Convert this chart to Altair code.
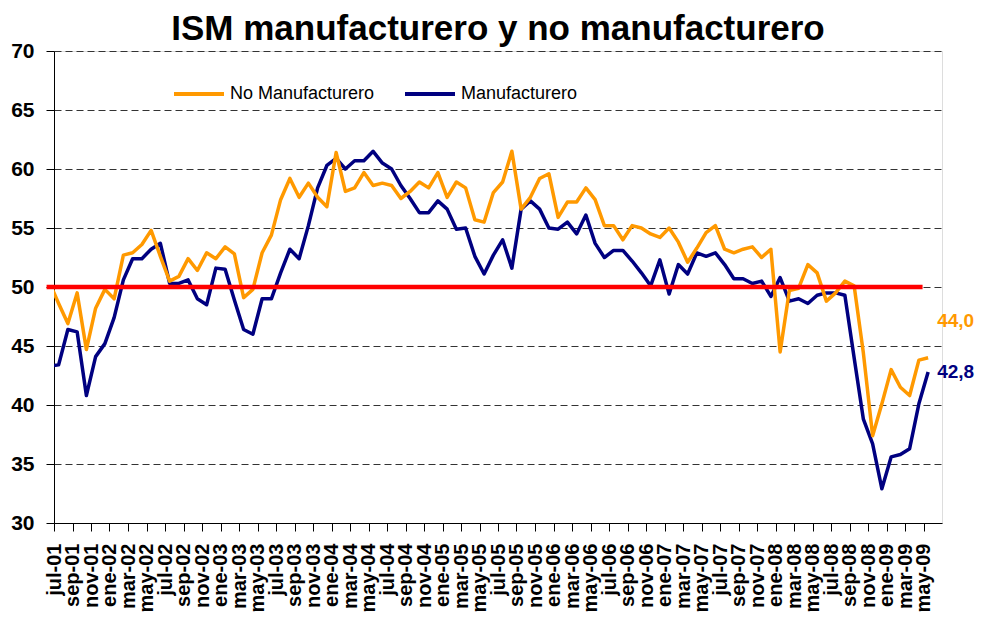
import altair as alt
import pandas as pd

MESES = ["ene", "feb", "mar", "abr", "may", "jun", "jul", "ago", "sep", "oct", "nov", "dic"]
# jun-01 (only its stub at the left edge is visible) .. may-09
FECHAS = []
for yy in range(1, 10):
    for m in range(12):
        if (yy == 1 and m < 5) or (yy == 9 and m > 4):
            continue
        FECHAS.append(f"{MESES[m]}-{yy:02d}")

MANUF = [
    43.3,
    43.4, 46.4, 46.2, 40.8, 44.1, 45.2, 47.4, 50.6, 52.4, 52.4,
    53.2, 53.7, 50.3, 50.3, 50.6, 49.0, 48.5, 51.6, 51.5, 48.9,
    46.4, 46.0, 49.0, 49.0, 51.2, 53.2, 52.4, 55.2, 58.4, 60.3,
    60.9, 60.0, 60.7, 60.7, 61.5, 60.5, 60.0, 58.6, 57.5, 56.3,
    56.3, 57.3, 56.6, 54.9, 55.0, 52.6, 51.1, 52.7, 54.0, 51.6,
    56.6, 57.3, 56.6, 55.0, 54.9, 55.5, 54.5, 56.1, 53.7, 52.5,
    53.1, 53.1, 52.2, 51.2, 50.1, 52.3, 49.4, 51.9, 51.1, 52.9,
    52.6, 52.9, 51.9, 50.7, 50.7, 50.3, 50.5, 49.2, 50.8, 48.8,
    49.0, 48.6, 49.3, 49.5, 49.5, 49.3, 44.0, 38.8, 36.7, 32.9,
    35.6, 35.8, 36.3, 40.1, 42.8,
]
NO_MANUF = [
    50.4,
    48.6, 46.9, 49.5, 44.7, 48.2, 49.8, 49.0, 52.7, 52.9, 53.6,
    54.8, 52.6, 50.5, 50.9, 52.4, 51.4, 52.9, 52.4, 53.4, 52.8,
    49.1, 49.8, 52.9, 54.4, 57.4, 59.2, 57.6, 58.8, 57.6, 56.8,
    61.4, 58.1, 58.4, 59.7, 58.6, 58.8, 58.6, 57.5, 58.1, 58.9,
    58.4, 59.7, 57.6, 58.9, 58.4, 55.7, 55.5, 58.0, 58.9, 61.5,
    56.6, 57.6, 59.2, 59.6, 55.9, 57.2, 57.2, 58.4, 57.4, 55.2,
    55.2, 54.0, 55.2, 55.0, 54.5, 54.2, 55.0, 53.8, 52.1, 53.3,
    54.6, 55.2, 53.2, 52.9, 53.2, 53.4, 52.5, 53.2, 44.5, 49.7,
    49.9, 51.9, 51.2, 48.8, 49.5, 50.5, 50.1, 44.4, 37.4, 40.1,
    43.0, 41.5, 40.8, 43.8, 44.0,
]
SERIES = ["No Manufacturero", "Manufacturero"]
COLORES = ["#FF9900", "#000080"]
Y_TICKS = [30, 35, 40, 45, 50, 55, 60, 65, 70]
NIVEL = 50
ROJO_DESDE, ROJO_HASTA = -1.3, 93.4
TITULO = "ISM manufacturero y no manufacturero"

n = len(FECHAS)          # 96, index -1 .. 94
rows = []
for k in range(n):
    rows.append({"idx": k - 1, "fecha": FECHAS[k], "serie": "Manufacturero", "valor": MANUF[k], "orden": 0})
for k in range(n):
    rows.append({"idx": k - 1, "fecha": FECHAS[k], "serie": "No Manufacturero", "valor": NO_MANUF[k], "orden": 1})
df = pd.DataFrame(rows)

last_o = pd.DataFrame([{"idx": n - 2, "valor": NO_MANUF[-1],
                        "txt": f"{NO_MANUF[-1]:.1f}".replace(".", ",")}])
last_m = pd.DataFrame([{"idx": n - 2, "valor": MANUF[-1],
                        "txt": f"{MANUF[-1]:.1f}".replace(".", ",")}])

W, H = 888, 472
step = W / 96.0

label_js = "[" + ",".join(f"'{f}'" for f in FECHAS) + "]"
xvals = list(range(0, n - 1, 2))

x_scale = alt.Scale(domain=[-0.5, 95.5], nice=False, zero=False)
y_scale = alt.Scale(domain=[30, 70], nice=False, zero=False)
color_scale = alt.Scale(domain=SERIES, range=COLORES)

x_axis = alt.Axis(
    values=xvals, tickCount=200,
    labelExpr=f"{label_js}[datum.value + 1]",
    title=None, grid=False, labelOverlap=False, labelAngle=270,
    labelAlign="right", labelBaseline="middle", labelFont="Liberation Sans",
    labelFontSize=20, labelFontWeight="bold", labelColor="black",
    labelPadding=12, tickSize=8, tickColor="black", tickOffset=-step / 2,
    domainColor="black", labelFlush=False,
)
y_axis = alt.Axis(
    values=Y_TICKS, title=None, grid=True, gridDash=[7, 4], gridColor="#333333",
    labelFont="Liberation Sans", labelFontSize=21, labelFontWeight="bold",
    labelColor="black", labelPadding=12, tickSize=8, tickColor="black",
    domainColor="black",
)

lines = alt.Chart(df).mark_line(strokeWidth=3.5, strokeJoin="round", clip=True).encode(
    x=alt.X("idx:Q", scale=x_scale, axis=x_axis),
    y=alt.Y("valor:Q", scale=y_scale, axis=y_axis),
    color=alt.Color(
        "serie:N", scale=color_scale,
        legend=alt.Legend(
            orient="none", legendX=118, legendY=16, direction="horizontal",
            title=None, symbolType="stroke", symbolSize=2500, symbolStrokeWidth=4,
            labelFont="Liberation Sans", labelFontSize=18, labelColor="black",
            labelOffset=4, columnPadding=22, labelLimit=300, fillColor="white",
            padding=0,
        ),
    ),
    order=alt.Order("orden:Q"),
)

red = alt.Chart(pd.DataFrame({"v": [NIVEL]})).mark_rule(color="#FF0000", strokeWidth=4.5).encode(
    x=alt.datum(ROJO_DESDE), x2=alt.datum(ROJO_HASTA), y="v:Q"
)

lab_o = alt.Chart(last_o).mark_text(
    align="left", baseline="middle", dx=9, dy=-37, font="Liberation Sans",
    fontSize=19, fontWeight="bold", color="#FF9900",
).encode(x="idx:Q", y="valor:Q", text="txt:N")
lab_m = alt.Chart(last_m).mark_text(
    align="left", baseline="middle", dx=9, dy=0, font="Liberation Sans",
    fontSize=19, fontWeight="bold", color="#000080",
).encode(x="idx:Q", y="valor:Q", text="txt:N")

title = alt.Chart(pd.DataFrame({"t": [TITULO]})).mark_text(
    align="center", baseline="alphabetic", font="Liberation Sans",
    fontSize=35, fontWeight="bold", color="black",
).encode(x=alt.value(W / 2), y=alt.value(-11), text="t:N")

chart = alt.layer(lines, red, lab_o, lab_m, title).properties(
    width=W, height=H,
    autosize=alt.AutoSizeParams(type="none"),
    padding={"left": 46, "top": 43, "right": 33, "bottom": 96},
).configure_view(stroke="#808080", strokeDash=[7, 4]).configure(background="white")

chart.save("out.html", embed_options={"renderer": "svg", "actions": False})
